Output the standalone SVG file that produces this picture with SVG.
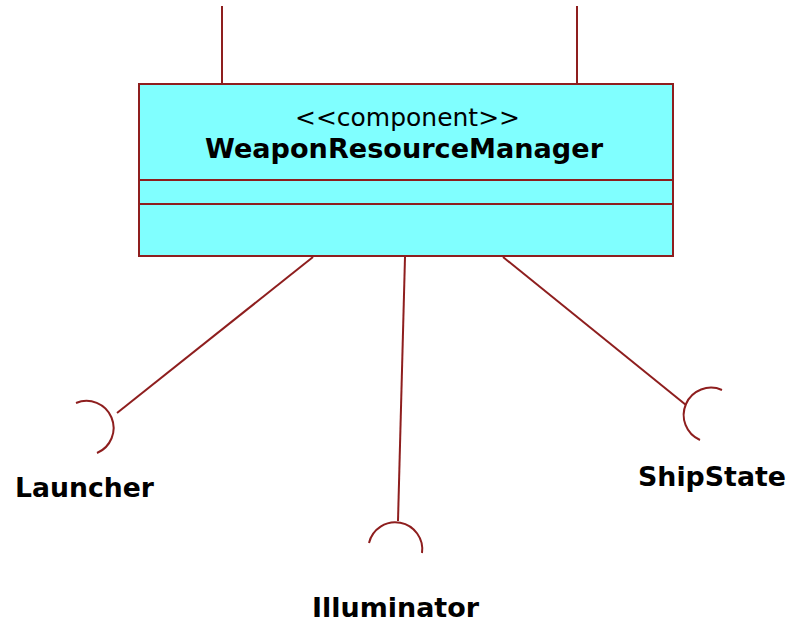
<svg xmlns="http://www.w3.org/2000/svg" width="790" height="624" viewBox="0 0 790 624">
<style>
.ln{stroke:#8E1E1E;stroke-width:2;fill:none}
.box{fill:#80FFFF;stroke:#8E1E1E;stroke-width:2}
.st{font-family:"DejaVu Sans",Verdana,sans-serif;font-size:25px;fill:#000}
.b{font-family:"DejaVu Sans",Verdana,sans-serif;font-size:27px;font-weight:bold;fill:#000}
</style>
<rect width="790" height="624" fill="#fff"/>
<g id="connectors">
<line class="ln" x1="222" y1="6" x2="222" y2="84"/>
<line class="ln" x1="577" y1="6" x2="577" y2="84"/>
<line class="ln" x1="313" y1="257" x2="117" y2="413"/>
<line class="ln" x1="405" y1="257" x2="398" y2="521"/>
<line class="ln" x1="503" y1="257" x2="686" y2="405"/>
</g>
<g id="WeaponResourceManager">
<rect class="box" x="139" y="84" width="534" height="172"/>
<line class="ln" x1="139" y1="180" x2="673" y2="180"/>
<line class="ln" x1="139" y1="204" x2="673" y2="204"/>
<text class="st" x="295" y="126" textLength="225" lengthAdjust="spacingAndGlyphs">&lt;&lt;component&gt;&gt;</text>
<text class="b" x="205" y="158" textLength="398" lengthAdjust="spacingAndGlyphs">WeaponResourceManager</text>
</g>
<g id="Launcher">
<path class="ln" d="M76,403 A26,26 0 0 1 97,453"/>
<text class="b" x="15" y="497" textLength="139" lengthAdjust="spacingAndGlyphs">Launcher</text>
</g>
<g id="Illuminator">
<path class="ln" d="M369,543 A27,27 0 0 1 422,553"/>
<text class="b" x="312" y="617" textLength="167" lengthAdjust="spacingAndGlyphs">Illuminator</text>
</g>
<g id="ShipState">
<path class="ln" d="M722,390 A26,26 0 0 0 700,440"/>
<text class="b" x="638" y="486" textLength="148" lengthAdjust="spacingAndGlyphs">ShipState</text>
</g>
</svg>
